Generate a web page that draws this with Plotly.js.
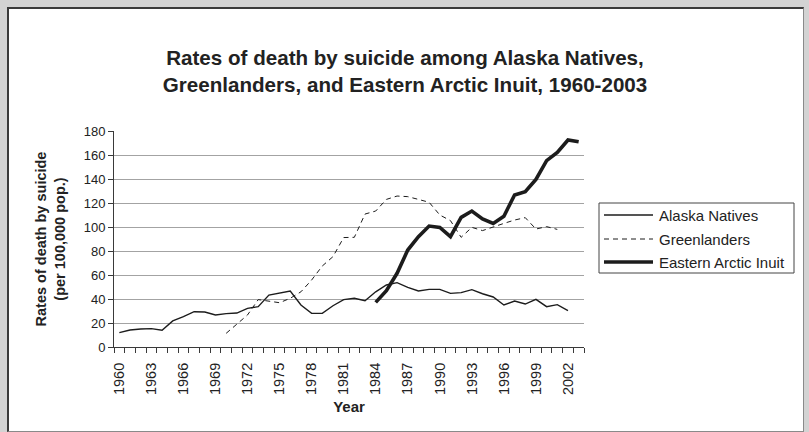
<!DOCTYPE html>
<html>
<head>
<meta charset="utf-8">
<script src="https://cdn.plot.ly/plotly-3.0.1.min.js"></script>
<style>
html,body{margin:0;padding:0;background:#d3d3d3;width:809px;height:432px;overflow:hidden;}
#panel{position:absolute;left:7px;top:7px;width:797px;height:425px;background:#fff;box-sizing:border-box;border-left:2px solid #3a3a3a;border-top:2px solid #3a3a3a;border-right:1px solid #8a8a8a;border-bottom:1px solid #8a8a8a;}
#chart{position:absolute;left:0;top:0;width:809px;height:432px;}
</style>
</head>
<body>
<div id="panel"></div>
<div id="chart"></div>
<script>
// Data
const years = [];
for (let y = 1960; y <= 2003; y++) years.push(y);
const alaskaNatives = [12, 14.2, 15, 15.3, 14, 21.7, 25.3, 29.4, 29.2, 26.7, 27.8, 28.3, 32.2, 33.6, 43.3, 44.7, 46.7, 35, 28, 28, 34.4, 39.5, 40.6, 38.6, 46, 51.7, 53.6, 49.7, 46.7, 48, 48, 44.7, 45.3, 47.8, 44.4, 41.7, 35, 38.3, 35.8, 39.7, 33.6, 35.3, 30.3, null];
const greenlanders = [null, null, null, null, null, null, null, null, null, null, 11.4, 18.9, 26.7, 39.5, 38, 36.9, 40.6, 46, 55.8, 67.5, 75.3, 91.2, 91.4, 110.8, 113.3, 123, 125.8, 125.3, 123, 120.6, 110, 105.3, 91.4, 99.7, 97, 99.7, 103, 105.8, 107.8, 98.3, 100.3, 98, null, null];
const easternArcticInuit = [null, null, null, null, null, null, null, null, null, null, null, null, null, null, null, null, null, null, null, null, null, null, null, null, 37.2, 47, 61.4, 80.8, 92, 100.8, 99.7, 92, 108, 113.3, 106.7, 103, 109, 126.7, 129.4, 139.7, 155.3, 162.2, 172.5, 171];
const labelYears = [1960, 1963, 1966, 1969, 1972, 1975, 1978, 1981, 1984, 1987, 1990, 1993, 1996, 1999, 2002];
const seriesNames = ["Alaska Natives", "Greenlanders", "Eastern Arctic Inuit"];
const titleText = "Rates of death by suicide among Alaska Natives,<br>Greenlanders, and Eastern Arctic Inuit, 1960-2003";

const W = 809, H = 432;
const L = 114, R = 584, T = 131, B = 347;
const px = x => (x - L) / (R - L);
const py = y => (B - y) / (B - T);
const ink = '#1c1c1c';
const FONT = 'Liberation Sans, Arial, Helvetica, sans-serif';

const styles = [
  {color: ink, width: 1.4, dash: 'solid'},
  {color: ink, width: 1.0, dash: '5px,4px'},
  {color: ink, width: 3.6, dash: 'solid'}
];
const seriesData = [alaskaNatives, greenlanders, easternArcticInuit];

const traces = seriesData.map((d, i) => ({
  x: years, y: d, type: 'scatter', mode: 'lines', name: seriesNames[i],
  line: {color: styles[i].color, width: styles[i].width, dash: styles[i].dash},
  connectgaps: false, showlegend: false, hoverinfo: 'skip'
}));

// custom legend
const legRows = [215, 239, 262];
const shapes = [{
  type: 'rect', xref: 'paper', yref: 'paper',
  x0: px(599), x1: px(794), y0: py(273), y1: py(203),
  line: {color: '#444', width: 1}, fillcolor: 'rgba(0,0,0,0)'
}];
const annotations = [];
legRows.forEach((ry, i) => {
  shapes.push({type: 'line', xref: 'paper', yref: 'paper',
    x0: px(604), x1: px(653), y0: py(ry), y1: py(ry),
    line: {color: styles[i].color, width: styles[i].width, dash: styles[i].dash}});
  annotations.push({xref: 'paper', yref: 'paper', x: px(657), y: py(ry),
    xanchor: 'left', yanchor: 'middle', showarrow: false, text: seriesNames[i],
    font: {family: FONT, size: 15, color: '#222'}});
});

const layout = {
  width: W, height: H,
  margin: {l: L, r: W - R, t: T, b: H - B, pad: 0},
  paper_bgcolor: 'rgba(0,0,0,0)', plot_bgcolor: 'rgba(0,0,0,0)',
  font: {family: FONT, color: '#222'},
  title: {text: titleText, x: 405 / W, xanchor: 'center', xref: 'container',
    y: 1 - 65 / H, yanchor: 'middle', yref: 'container',
    font: {family: FONT, size: 20.6, color: '#222', weight: 'bold'}},
  xaxis: {
    range: [1959.5, 2003.5], tickmode: 'array', tickvals: labelYears,
    ticktext: labelYears.map(String), tickangle: -90, ticks: '',
    ticklabelstandoff: 9,
    tickfont: {family: FONT, size: 14.5, color: '#222'},
    showline: true, linecolor: '#3a3a3a', linewidth: 1, showgrid: false, zeroline: false,
    minor: {ticks: 'outside', tick0: 1959.5, dtick: 1, ticklen: 5, tickcolor: '#3a3a3a', tickwidth: 1, showgrid: false},
    title: {text: '<b>Year</b>', font: {family: FONT, size: 15, color: '#222'}, standoff: 7},
    fixedrange: true
  },
  yaxis: {
    range: [0, 180], dtick: 20, tick0: 0, ticks: 'outside', ticklen: 5,
    tickcolor: '#3a3a3a', tickwidth: 1,
    tickfont: {family: FONT, size: 13, color: '#222'},
    showline: true, linecolor: '#3a3a3a', linewidth: 1,
    showgrid: true, gridcolor: '#a3a3a3', gridwidth: 1, zeroline: false,
    title: {text: '<b>Rates of death by suicide<br>(per 100,000 pop.)</b>', font: {family: FONT, size: 14.5, color: '#222'}, standoff: 14},
    fixedrange: true
  },
  shapes: shapes,
  annotations: annotations,
  showlegend: false
};

Plotly.newPlot('chart', traces, layout, {displayModeBar: false, staticPlot: true});
</script>
</body>
</html>
